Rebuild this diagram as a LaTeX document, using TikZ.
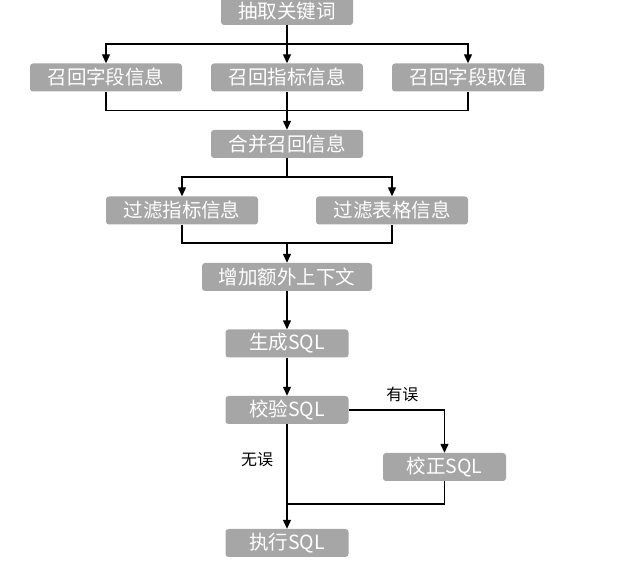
\documentclass[tikz,border=0pt]{standalone}
\usepackage{fontspec}
\setmainfont{Noto Sans CJK SC}
\usetikzlibrary{arrows.meta, positioning}
\definecolor{boxgray}{HTML}{A6A6A6}

\begin{document}
\begin{tikzpicture} [
						x=1pt, y=1pt,
						node distance=66.5pt,
						>={Triangle[length=9pt,width=8pt]},
						box/.style={fill=boxgray, text=white, rounded corners=3pt,
							minimum width=152pt, minimum height=28pt, inner sep=0pt,
							font=\fontsize{19.5}{22}\selectfont},
						lbl/.style={font=\fontsize{16}{18}\selectfont},
						line/.style={line width=1.2pt}
					]

\useasboundingbox (0,0) rectangle (622,564);

\node (extract) [box, minimum width=132pt] at (287,553) {抽取关键词};
\node (recallB) [box, below of=extract] {召回指标信息};
\node (recallA) [box, left of=recallB, node distance=181pt] {召回字段信息};
\node (recallC) [box, right of=recallB, node distance=181pt] {召回字段取值};
\node (merge) [box, below of=recallB] {合并召回信息};
\node (filterA) [box, below of=merge, xshift=-105pt] {过滤指标信息};
\node (filterB) [box, below of=merge, xshift=105pt] {过滤表格信息};
\node (context) [box, minimum width=170pt, below of=merge, node distance=133pt] {增加额外上下文};
\node (gen) [box, minimum width=123pt, below of=context] {生成SQL};
\node (check) [box, minimum width=123pt, below of=gen] {校验SQL};
\node (fix) [box, minimum width=123pt, below of=check, xshift=157.5pt, node distance=57pt] {校正SQL};
\node (run) [box, minimum width=123pt, below of=check, node distance=133pt] {执行SQL};

\coordinate (fork1) at ([yshift=-33pt]extract.center);
\coordinate (join1) at ([yshift=-33pt]recallB.center);
\coordinate (fork2) at ([yshift=-33pt]merge.center);
\coordinate (join2) at ([yshift=34pt]context.center);
\coordinate (join3) at ([yshift=39pt]run.center);

\draw[line] (extract) -- (fork1);
\draw[line, ->] (fork1) -| (recallA);
\draw[line, ->] (fork1) -- (recallB);
\draw[line, ->] (fork1) -| (recallC);

\draw[line] (recallA) |- (join1) -| (recallC);
\draw[line, ->] (recallB) -- (merge);

\draw[line] (merge) -- (fork2);
\draw[line, ->] (fork2) -| (filterA);
\draw[line, ->] (fork2) -| (filterB);

\draw[line] (filterA) |- (join2) -| (filterB);
\draw[line, ->] (join2) -- (context);

\draw[line, ->] (context) -- (gen);
\draw[line, ->] (gen) -- (check);
\draw[line, ->] (check) -| node[lbl, pos=0.28, above=4pt] {有误} (fix);
\draw[line, ->] (check) -- node[lbl, pos=0.34, left=10pt] {无误} (run);
\draw[line] (fix) |- (join3);

\end{tikzpicture}
\end{document}
